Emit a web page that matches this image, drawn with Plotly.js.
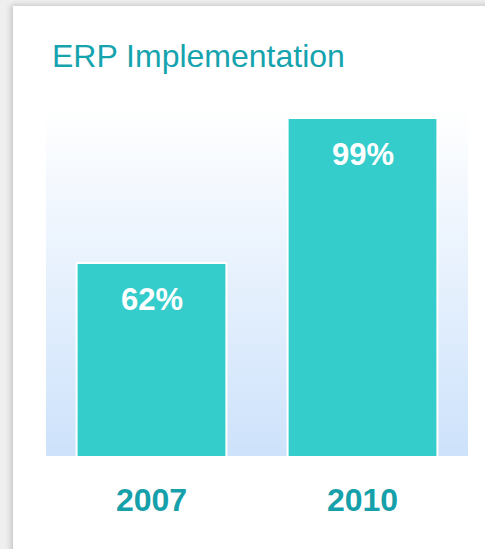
<!DOCTYPE html>
<html>
<head>
<meta charset="utf-8">
<script src="https://cdn.plot.ly/plotly-3.0.1.min.js"></script>
<style>
  html, body { margin: 0; padding: 0; background: #efefef; overflow: hidden; }
  #card { position: absolute; left: 13px; top: 6px; width: 520px; height: 600px; background: #ffffff;
          box-shadow: -2px -1px 6px rgba(0,0,0,0.18); }
  #chart { position: absolute; left: 0; top: 0; width: 485px; height: 549px; }
</style>
</head>
<body>
<div id="card"></div>
<div id="chart"></div>
<script>
const years = ['2007', '2010'];
const implementation = [62, 99];
const labels = implementation.map(v => v + '%');

const gradientSvg = '<svg xmlns="http://www.w3.org/2000/svg" width="10" height="100" preserveAspectRatio="none">' +
  '<defs><linearGradient id="g" x1="0" y1="0" x2="0" y2="1">' +
  '<stop offset="0" stop-color="#ffffff"/><stop offset="1" stop-color="#cde2fb"/></linearGradient></defs>' +
  '<rect width="10" height="100" fill="url(#g)"/></svg>';
const gradientUrl = 'data:image/svg+xml;base64,' + btoa(gradientSvg);

const trace = {
  type: 'bar',
  x: years,
  y: implementation,
  marker: { color: '#35cccc', line: { color: '#ffffff', width: 2 } },
  hoverinfo: 'skip'
};

// category axis: annotation x uses the category's index
const annotations = years.map((yr, i) => ({
  x: i, y: implementation[i], xref: 'x', yref: 'y',
  text: '<b>' + labels[i] + '</b>', showarrow: false,
  yanchor: 'top', yshift: -17,
  font: { family: 'Liberation Sans, Arial, sans-serif', size: 31, color: '#ffffff' }
}));

const layout = {
  width: 485, height: 549,
  margin: { l: 46, r: 17, t: 108, b: 93, pad: 0 },
  paper_bgcolor: 'rgba(0,0,0,0)',
  plot_bgcolor: 'rgba(0,0,0,0)',
  showlegend: false,
  bargap: 0.29,
  title: {
    text: 'ERP Implementation',
    font: { family: 'Liberation Sans, Arial, sans-serif', size: 32, color: '#15a3ae' },
    xref: 'container', yref: 'container',
    x: 52 / 485, xanchor: 'left',
    y: 1 - 56 / 549, yanchor: 'middle'
  },
  xaxis: {
    type: 'category',
    range: [-0.5, 1.5],
    showgrid: false, zeroline: false, showline: false,
    ticks: 'outside', ticklen: 16, tickcolor: 'rgba(0,0,0,0)',
    tickfont: { family: 'Liberation Sans, Arial, sans-serif', size: 32, color: '#16a0a9', weight: 'bold' }
  },
  yaxis: {
    range: [12.75, 101.55],
    showgrid: false, zeroline: false, showline: false, showticklabels: false, ticks: ''
  },
  images: [{
    source: gradientUrl, xref: 'paper', yref: 'paper',
    x: 0, y: 1, sizex: 1, sizey: 1, xanchor: 'left', yanchor: 'top',
    sizing: 'stretch', layer: 'below'
  }],
  annotations: annotations
};

Plotly.newPlot('chart', [trace], layout, { displayModeBar: false });
</script>
</body>
</html>
